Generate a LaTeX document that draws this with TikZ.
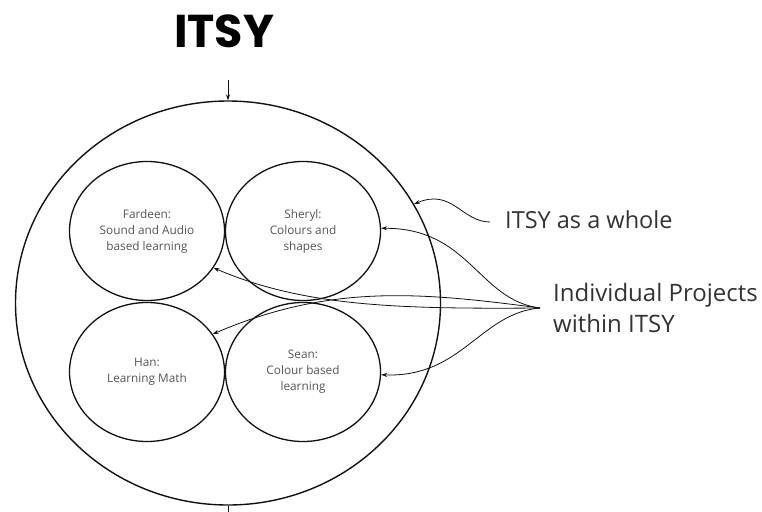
\documentclass[tikz,border=0pt]{standalone}
\usepackage{fontspec}
\setmainfont{Open Sans}
\newfontfamily\titlefont{Poppins}
\usetikzlibrary{shapes.geometric,arrows.meta}
\definecolor{inktext}{HTML}{555555}
\definecolor{labeltext}{HTML}{333333}
\definecolor{ink}{HTML}{111111}
\begin{document}
\begin{tikzpicture}[x=1pt,y=-1pt,
  proj/.style={draw=ink, line width=1.3pt, ellipse, minimum width=155pt, minimum height=139pt, inner sep=0pt,
    align=center, text=inktext, font=\fontsize{11.8}{16}\selectfont},
  conn/.style={draw=ink, line width=0.8pt, -{Stealth[length=6pt,width=4pt]}},
  biglabel/.style={text=labeltext, anchor=west, inner sep=0pt, align=left}
]
\useasboundingbox (0,0) rectangle (762,511);
\fill[white] (0,0) rectangle (762,511);

\node[inner sep=0pt, font=\titlefont\bfseries\fontsize{46}{46}\selectfont] (title) at (224,31) {ITSY};

\node[draw=ink, line width=1.4pt, ellipse, minimum width=425pt, minimum height=404pt, inner sep=0pt] (whole) at (228,303) {};

\node[proj] (fardeen) at (147,231) {Fardeen:\\Sound and Audio\\based learning};
\node[proj] (sheryl) at (303,231) {Sheryl:\\Colours and\\shapes};
\node[proj] (han) at (147,372) {Han:\\Learning Math};
\node[proj] (sean) at (303,372) {Sean:\\Colour based\\learning};

\node[biglabel, font=\fontsize{23.5}{28}\selectfont] (wholelabel) at (505,220) {ITSY as a whole};
\node[biglabel, font=\fontsize{24}{31}\selectfont] (projlabel) at (553,308) {Individual Projects\\within ITSY};

\coordinate (topstart) at (228,80);
\coordinate (botend) at (228,515);
\coordinate (wholestart) at (490,222);
\coordinate (conv) at (540,308);

\draw[conn] (topstart) -- (whole.north);
\draw[draw=ink, line width=0.8pt] (whole.south) -- (botend);

\draw[conn] (wholestart) .. controls (462,222) and (452,188) .. (whole.28);

\draw[conn] (conv) .. controls (478,300) and (470,228) .. (sheryl.2);
\draw[conn] (conv) .. controls (480,313) and (462,378) .. (sean.-2);
\draw[conn] (conv) .. controls (400,309) and (305,307) .. (fardeen.-29);
\draw[conn] (conv) .. controls (420,292) and (330,284) .. (han.30);
\end{tikzpicture}
\end{document}
